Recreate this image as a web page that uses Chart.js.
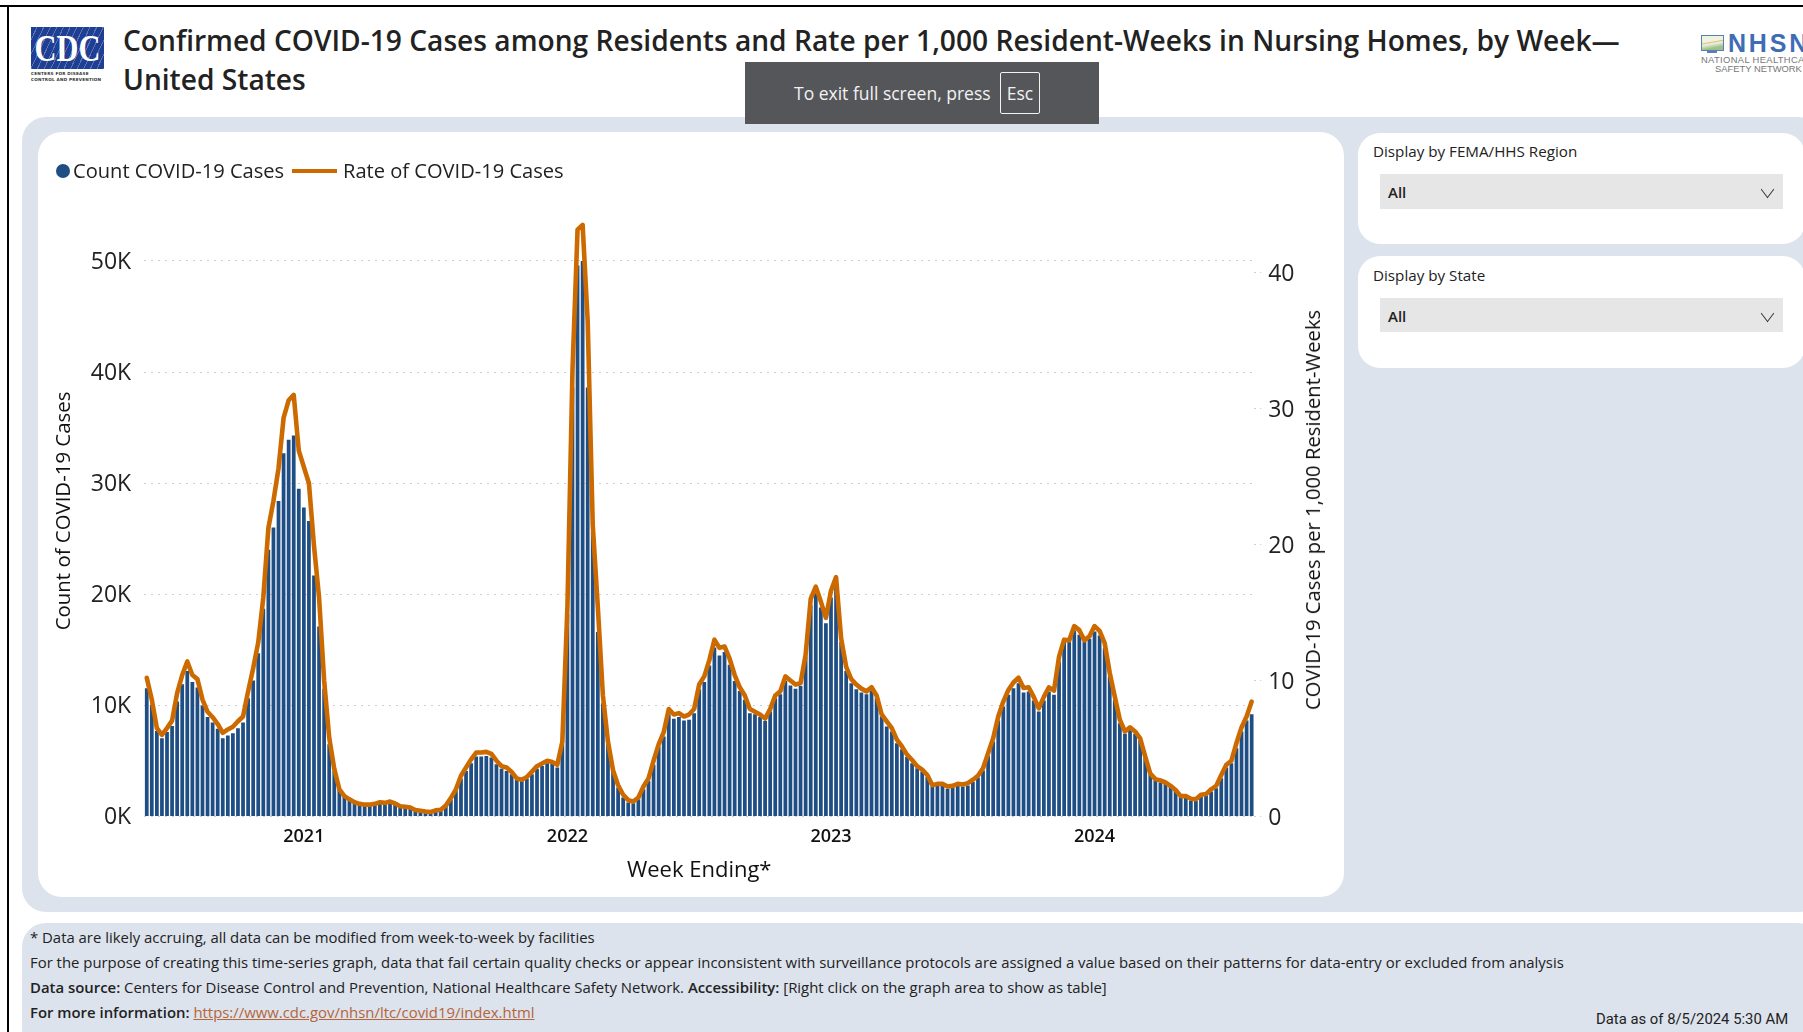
<!DOCTYPE html>
<html>
<head>
<meta charset="utf-8">
<title>Confirmed COVID-19 Cases among Residents</title>
<script src="https://cdn.jsdelivr.net/npm/chart.js@4"></script>
<style>
    html, body { margin: 0; padding: 0; background: #fff; }
    body { width: 1803px; height: 1032px; position: relative; overflow: hidden; font-family: "Open Sans", sans-serif; color: #111; }
    .abs { position: absolute; white-space: nowrap; }
    #frameTop { left: 0; top: 5px; width: 1803px; height: 2px; background: #000; }
    #frameLeft { left: 7px; top: 5px; width: 2px; height: 1027px; background: #000; }

    #logo { left: 31px; top: 27px; width: 73px; height: 42px; background: #1f3f95; overflow: hidden; }
    #logo .rays { position: absolute; inset: 0; background: repeating-linear-gradient(115deg, transparent 0 5px, rgba(255,255,255,.28) 5px 6px); }
    #logo .word { position: absolute; left: -10px; right: -10px; top: 0; text-align: center; color: #fff; font: 700 37px "Liberation Serif", serif; transform: scaleX(.82); }
    #logoSub { left: 31px; top: 71px; width: 73px; color: #333; font: 700 4.2px/6px "DejaVu Sans", sans-serif; letter-spacing: .2px; }

    #title { left: 123px; top: 21px; font-weight: 600; font-size: 28.15px; line-height: 39px; color: #222; }

    #nhsnIcon { left: 1701px; top: 35px; width: 21px; height: 14px; border: 1px solid #5a7fb5; background: linear-gradient(170deg, #eef3e0 40%, #e8b878 45%, #eef3e0 52%, #9cc08a 80%); }
    #nhsnStand { left: 1707px; top: 50px; width: 10px; height: 3px; background: #5a7fb5; }
    #nhsnWord { left: 1728px; top: 26px; color: #3f6db5; font: 700 25px/34px "Liberation Sans", sans-serif; letter-spacing: 2.8px; }
    #nhsnSub1 { left: 1701px; top: 54px; color: #777; font: 9.4px/11px "Liberation Sans", sans-serif; letter-spacing: .35px; }
    #nhsnSub2 { left: 1715px; top: 63px; color: #777; font: 9.4px/11px "Liberation Sans", sans-serif; }

    #panel { left: 22px; top: 117px; width: 1800px; height: 795px; background: #dce3ed; border-radius: 24px; }
    #footer { left: 22px; top: 923px; width: 1800px; height: 130px; background: #dce3ed; border-radius: 24px; }
    #card { left: 38px; top: 132px; width: 1306px; height: 765px; background: #fff; border-radius: 24px; }
    #chart { position: absolute; left: 0; top: 0; }
    .side { left: 1358px; width: 447px; background: #fff; border-radius: 22px; }
    .sideLabel { left: 1373px; font-size: 15.2px; line-height: 20px; color: #222; }
    .select { left: 1380px; width: 403px; background: #e6e6e6; }
    .selVal { left: 1388px; font-size: 15px; font-weight: 600; line-height: 20px; color: #222; }
    .chev { left: 1762px; width: 10px; height: 10px; border-right: 1px solid #333; border-bottom: 1px solid #333; transform: rotate(45deg) skew(8deg, 8deg); }

    #legDot { left: 56px; top: 164px; width: 14px; height: 14px; border-radius: 50%; background: #1f4e85; }
    #legLine { left: 292px; top: 169px; width: 45px; height: 4px; background: #cc6a00; }
    .legText { top: 157px; font-size: 20.1px; line-height: 28px; color: #222; }
    #rightTitle { left: 1312px; top: 510px; font-size: 20.25px; line-height: 24px; color: #111; transform: translate(-50%, -50%) rotate(-90deg); }

    #exitBar { left: 745px; top: 62px; width: 354px; height: 62px; background: #55565a; }
    #exitText { left: 794px; top: 81px; color: #f2f2f2; font-size: 17.5px; line-height: 24px; }
    #exitKey { left: 1000px; top: 72px; width: 40px; height: 42px; box-sizing: border-box; border: 1px solid #f2f2f2; border-radius: 2px; color: #f2f2f2; font-size: 17.5px; line-height: 40px; text-align: center; }

    .note { left: 30px; font-size: 14.9px; line-height: 20px; color: #222; }
    .note b { font-weight: 600; }
    .note a { color: #b5653a; text-decoration: underline; }
    #asOf { left: 1596px; top: 1009px; font: 14.85px/20px "Roboto", sans-serif; color: #222; }
</style>
</head>
<body>
<div class="abs" id="frameTop"></div>
<div class="abs" id="frameLeft"></div>

<div class="abs" id="logo"><div class="rays"></div><div class="word">CDC</div></div>
<div class="abs" id="logoSub">CENTERS FOR DISEASE<br>CONTROL AND PREVENTION</div>
<div class="abs" id="title">Confirmed COVID-19 Cases among Residents and Rate per 1,000 Resident-Weeks in Nursing Homes, by Week—<br>United States</div>

<div class="abs" id="nhsnIcon"></div>
<div class="abs" id="nhsnStand"></div>
<div class="abs" id="nhsnWord">NHSN</div>
<div class="abs" id="nhsnSub1">NATIONAL HEALTHCARE</div>
<div class="abs" id="nhsnSub2">SAFETY NETWORK</div>

<div class="abs" id="panel"></div>
<div class="abs" id="footer"></div>
<div class="abs" id="card"><canvas id="chart" width="1306" height="765"></canvas></div>

<div class="abs" id="legDot"></div>
<div class="abs legText" style="left:73px">Count COVID-19 Cases</div>
<div class="abs" id="legLine"></div>
<div class="abs legText" style="left:343px">Rate of COVID-19 Cases</div>
<div class="abs" id="rightTitle">COVID-19 Cases per 1,000 Resident-Weeks</div>

<div class="abs side" style="top:133px;height:111px"></div>
<div class="abs sideLabel" style="top:141px">Display by FEMA/HHS Region</div>
<div class="abs select" style="top:174px;height:35px"></div>
<div class="abs selVal" style="top:182px">All</div>
<div class="abs chev" style="top:184px"></div>
<div class="abs side" style="top:256px;height:112px"></div>
<div class="abs sideLabel" style="top:265px">Display by State</div>
<div class="abs select" style="top:298px;height:34px"></div>
<div class="abs selVal" style="top:306px">All</div>
<div class="abs chev" style="top:308px"></div>

<div class="abs" id="exitBar"></div>
<div class="abs" id="exitText">To exit full screen, press</div>
<div class="abs" id="exitKey">Esc</div>

<div class="abs note" style="top:927px">* Data are likely accruing, all data can be modified from week-to-week by facilities</div>
<div class="abs note" style="top:952px">For the purpose of creating this time-series graph, data that fail certain quality checks or appear inconsistent with surveillance protocols are assigned a value based on their patterns for data-entry or excluded from analysis</div>
<div class="abs note" style="top:977px"><b>Data source:</b> Centers for Disease Control and Prevention, National Healthcare Safety Network. <b>Accessibility:</b> [Right click on the graph area to show as table]</div>
<div class="abs note" style="top:1002px"><b>For more information:</b> <a>https://www.cdc.gov/nhsn/ltc/covid19/index.html</a></div>
<div class="abs" id="asOf">Data as of 8/5/2024 5:30 AM</div>

<script>
// weekly counts, in thousands
const countsK = [
    11.55,10.05,7.7,7.05,7.6,8.15,10.35,11.9,13.1,12.1,
    11.6,10,8.95,8.45,7.9,7.05,7.3,7.5,7.95,8.45,
    10.65,12.25,14.7,18.7,24,26,28.4,32.7,33.9,34.3,
    29.5,27.8,26.6,21.7,17.1,11.5,6.5,4.1,2.4,1.8,
    1.5,1.25,1.1,1.0,1.0,1.05,1.2,1.15,1.25,1.1,
    .85,.8,.75,.55,.48,.4,.37,.5,.55,.9,
    1.5,2.3,3.4,4.1,4.8,5.4,5.4,5.45,5.3,4.7,
    4.3,4.1,3.8,3.3,3.2,3.4,3.8,4.3,4.55,4.8,
    4.8,4.4,6.5,18.2,38.6,49.6,50,38.6,25.6,16.6,
    10.2,6.5,4.1,2.6,1.7,1.25,1.2,1.55,2.45,3.2,
    4.65,6.3,7.2,9.2,8.8,8.95,8.65,8.7,9.3,11.45,
    12.1,13.6,15.2,14.5,14.8,13.65,12.2,11.3,10.5,9.3,
    9.2,8.95,8.6,9.45,10.65,11,12.2,11.8,11.5,11.75,
    14.4,19,20.2,18.8,17.4,19.7,20.8,15.7,13.1,12,
    11.45,11.15,11,11.3,10.65,9.0,8.1,7.65,6.6,6.05,
    5.35,4.8,4.35,4.05,3.55,2.7,2.75,2.75,2.5,2.6,
    2.75,2.7,2.8,3.1,3.5,4.15,5.45,6.75,8.65,9.9,
    10.95,11.55,12,11.15,11.25,10.45,9.45,10.45,11.25,10.95,
    13.95,15.7,15.7,16.75,16.35,15.7,16,16.65,16.3,15.15,
    12.6,10.5,8.4,7.45,7.8,7.45,6.85,5.25,3.75,3.25,
    3.05,2.95,2.65,2.3,1.75,1.75,1.45,1.4,1.8,1.9,
    2.25,2.55,3.45,4.4,4.8,6.15,7.65,8.65,9.2
];

// cases per 1,000 resident-weeks
const rates = [
    10.2,8.6,6.5,6.0,6.5,7.05,9.07,10.4,11.4,10.4,
    10.1,8.6,7.7,7.3,6.8,6.15,6.4,6.6,7.0,7.35,
    9.2,10.9,12.8,16.1,21.2,23.2,25.6,29.3,30.6,31.0,
    26.9,25.7,24.5,19.9,16.1,10.0,5.8,3.5,2.0,1.5,
    1.26,1.05,.93,.87,.87,.93,1.05,1.0,1.1,.96,
    .75,.72,.66,.48,.42,.36,.33,.45,.5,.8,
    1.35,2.0,3.0,3.6,4.2,4.7,4.7,4.75,4.6,4.1,
    3.7,3.6,3.27,2.8,2.7,2.9,3.3,3.7,3.9,4.1,
    4.0,3.8,5.5,15.4,32.8,43.15,43.5,36.4,21.4,15.4,
    8.9,5.5,3.4,2.3,1.6,1.2,1.1,1.4,2.2,2.8,
    4.1,5.3,6.2,7.9,7.5,7.6,7.35,7.5,7.9,9.7,
    10.3,11.5,13.0,12.4,12.5,11.6,10.4,9.5,8.9,7.9,
    7.7,7.5,7.2,7.9,8.9,9.2,10.3,10.0,9.7,9.8,
    11.9,16.0,16.9,15.8,14.6,16.6,17.6,13.1,11.0,10.1,
    9.7,9.4,9.2,9.5,8.9,7.5,7.0,6.5,5.65,5.15,
    4.55,4.15,3.7,3.45,3.05,2.3,2.4,2.4,2.2,2.25,
    2.4,2.35,2.45,2.7,3.0,3.55,4.65,5.75,7.35,8.45,
    9.3,9.85,10.2,9.45,9.5,8.8,7.95,8.8,9.5,9.25,
    11.75,13.0,12.95,14.0,13.7,12.95,13.25,14.0,13.65,12.75,
    10.55,8.8,7.1,6.25,6.55,6.25,5.75,4.4,3.15,2.75,
    2.65,2.5,2.25,1.95,1.5,1.5,1.3,1.27,1.6,1.65,
    2.0,2.25,3.05,3.8,4.1,5.4,6.55,7.35,8.45
];

const yearTickWeeks = ["2021-01-03", "2022-01-02", "2023-01-01", "2023-12-31"];
const yearTickLabels = ["2021", "2022", "2023", "2024"];

// one label per bar, a week apart from the first week ending
const firstWeek = Date.UTC(2020, 4, 31);
const weekEnding = countsK.map((_, i) => new Date(firstWeek + i * 7 * 864e5).toISOString().slice(0, 10));

const font = "'Open Sans', sans-serif";
const dotted = "#cfcfcf";

new Chart(document.getElementById("chart").getContext("2d"), {
    type: "bar",
    data: {
        labels: weekEnding,
        datasets: [
            {
                type: "line",
                label: "Rate of COVID-19 Cases",
                data: rates,
                yAxisID: "y1",
                borderColor: "#cc6a00",
                borderWidth: 4.6,
                pointRadius: 0,
                tension: 0,
                borderJoinStyle: "round",
                borderCapStyle: "round",
                order: 1
            },
            {
                label: "Count COVID-19 Cases",
                data: countsK,
                yAxisID: "y",
                backgroundColor: "#1f4e85",
                barPercentage: 0.74,
                categoryPercentage: 1,
                order: 2
            }
        ]
    },
    options: {
        responsive: false,
        animation: false,
        layout: { padding: { top: 73.4 } },
        plugins: { legend: { display: false }, tooltip: { enabled: false } },
        scales: {
            x: {
                offset: true,
                grid: { display: false },
                border: { display: false },
                afterFit: (s) => { s.height = 80.5; },
                ticks: {
                    autoSkip: false,
                    maxRotation: 0,
                    padding: 2,
                    color: "#111",
                    font: { family: font, size: 18, weight: 600 },
                    callback: function (value) {
                        const at = yearTickWeeks.indexOf(this.getLabelForValue(value));
                        return at < 0 ? "" : yearTickLabels[at];
                    }
                },
                title: {
                    display: true,
                    text: "Week Ending*",
                    color: "#111",
                    font: { family: font, size: 22 },
                    padding: { top: 0, bottom: 13 }
                }
            },
            y: {
                min: 0,
                max: 55,
                afterFit: (s) => { s.width = 106.2; },
                afterBuildTicks: (s) => { s.ticks = s.ticks.filter(t => t.value % 10 === 0); },
                grid: { color: dotted, lineWidth: 1, drawTicks: false },
                border: { display: false, dash: [2, 5] },
                ticks: {
                    stepSize: 10,
                    padding: 13,
                    labelOffset: 1,
                    color: "#222",
                    font: { family: font, size: 23 },
                    callback: (v) => v + "K"
                },
                title: {
                    display: true,
                    text: "Count of COVID-19 Cases",
                    color: "#111",
                    font: { family: font, size: 20.4 },
                    padding: { top: 14, bottom: 0 }
                }
            },
            y1: {
                position: "right",
                min: 0,
                max: 44.93,
                afterFit: (s) => { s.width = 89.8; },
                afterBuildTicks: (s) => { s.ticks = s.ticks.filter(t => t.value % 10 === 0); },
                grid: {
                    drawOnChartArea: false,
                    tickLength: 7,
                    tickColor: dotted,
                    tickBorderDash: [2, 4]
                },
                border: { display: false },
                ticks: {
                    stepSize: 10,
                    padding: 7,
                    labelOffset: 2,
                    color: "#222",
                    font: { family: font, size: 23 }
                }
            }
        }
    }
});
</script>
</body>
</html>
